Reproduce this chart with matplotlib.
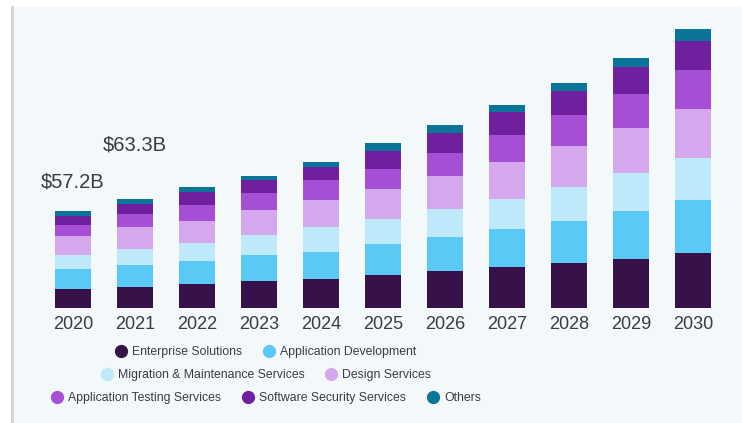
import matplotlib
matplotlib.use("Agg")
import matplotlib.pyplot as plt
from matplotlib.lines import Line2D
import numpy as np

years = ["2020", "2021", "2022", "2023", "2024", "2025", "2026", "2027", "2028", "2029", "2030"]
series = ["Enterprise Solutions", "Application Development", "Migration & Maintenance Services",
          "Design Services", "Application Testing Services", "Software Security Services", "Others"]
colors = ["#37114a", "#5bc9f6", "#bde9fa", "#d5a7ec", "#a54fd7", "#701f9e", "#0b7599"]

enterprise = [11.1, 12.5, 14.0, 15.6, 17.1, 19.5, 21.6, 23.8, 26.1, 28.7, 32.2]
app_dev = [11.5, 12.7, 13.5, 15.6, 15.8, 18.0, 20.1, 22.2, 25.0, 27.8, 30.8]
migration = [8.6, 9.5, 10.5, 11.7, 14.6, 14.4, 16.0, 17.8, 19.7, 22.5, 24.8]
design = [10.9, 12.5, 13.0, 14.4, 15.4, 17.6, 19.3, 21.4, 23.8, 26.3, 28.8]
testing = [6.6, 8.0, 9.4, 9.9, 11.9, 12.1, 13.7, 15.8, 18.1, 19.7, 22.6]
security = [5.4, 5.4, 7.2, 7.6, 7.8, 10.1, 11.9, 13.7, 14.4, 16.2, 17.0]
others = [2.7, 2.9, 3.2, 2.7, 3.1, 4.9, 4.3, 3.9, 4.5, 5.3, 6.8]

callouts = {0: "$57.2B", 1: "$63.3B"}
callout_offsets = {0: 21, 1: 39}

W, H = 742, 423
fig = plt.figure(figsize=(W / 100, H / 100), dpi=100)
fig.patch.set_facecolor("white")

# background panel with grey left rule
bg = fig.add_axes([12 / W, 0, 730 / W, 416 / H])
bg.set_facecolor("#f3f8fb")
bg.set_xticks([])
bg.set_yticks([])
for s in ["top", "right", "bottom"]:
    bg.spines[s].set_visible(False)
bg.spines["left"].set_color("#d2d2d2")
bg.spines["left"].set_linewidth(2)

ax = fig.add_axes([12 / W, 115 / H, 730 / W, 288 / H])
ax.patch.set_alpha(0)
x = np.arange(len(years))
bottom = np.zeros(len(years))
for vals, col, name in zip([enterprise, app_dev, migration, design, testing, security, others], colors, series):
    ax.bar(x, vals, width=0.575, bottom=bottom, color=col, label=name, linewidth=0)
    bottom += np.array(vals)

ax.set_xlim(-0.984, 10.79)
ax.set_ylim(0, 168.5)
ax.set_yticks([])
ax.set_xticks(x)
ax.set_xticklabels(years, fontsize=13, color="#3c3a45", family=["Liberation Sans", "DejaVu Sans"])
ax.tick_params(axis="x", length=0, pad=6)
for s in ax.spines.values():
    s.set_visible(False)

for i, txt in callouts.items():
    ax.annotate(txt, (x[i], bottom[i]), xytext=(0, callout_offsets[i]), textcoords="offset points",
                ha="center", va="center", fontsize=14.5, color="#3c3a45",
                family=["Liberation Sans", "DejaVu Sans"])

rows = [[0, 1], [2, 3], [4, 5, 6]]
row_y = [352, 375, 398]
for r, yy in zip(rows, row_y):
    handles = [Line2D([], [], marker="o", linestyle="none", markersize=8.5,
                      markerfacecolor=colors[k], markeredgecolor=colors[k]) for k in r]
    fig.legend(handles, [series[k] for k in r], loc="center", bbox_to_anchor=(266 / W, 1 - yy / H),
               ncol=len(r), frameon=False, handletextpad=0.4, columnspacing=1.7, borderpad=0,
               handlelength=1.0, prop={"family": ["Liberation Sans"], "size": 8.8},
               labelcolor="#3c3a45")

fig.savefig("out.png", dpi=100, facecolor=fig.get_facecolor())
